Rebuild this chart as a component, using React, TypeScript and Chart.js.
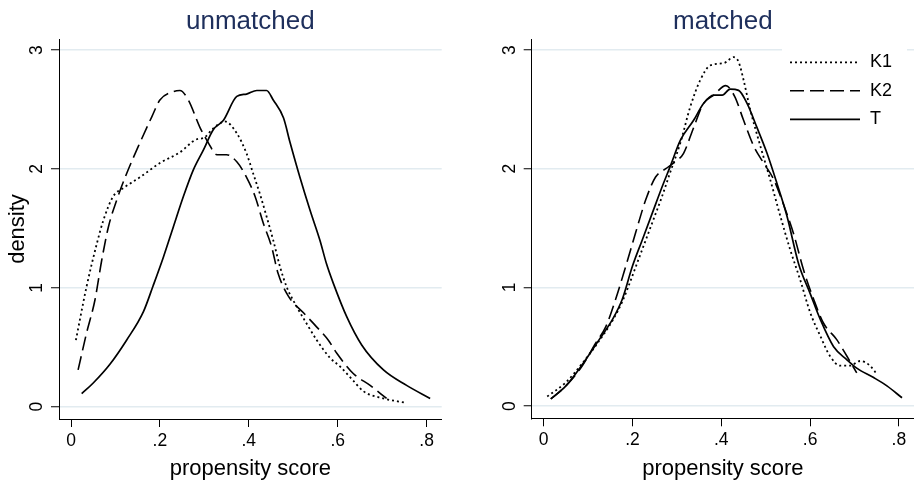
import React, { useEffect, useRef } from "react";
import { Chart, registerables } from "chart.js";

Chart.register(...registerables);

// ---------- data ----------
const seriesLabels = ["K1", "K2", "T"];
const panelTitles = ["unmatched", "matched"];
const xTickValues = [0, 0.2, 0.4, 0.6, 0.8];
const xTickLabels = ["0", ".2", ".4", ".6", ".8"];
const yTickValues = [0, 1, 2, 3];
const yTickLabels = ["0", "1", "2", "3"];

// unmatched panel
const unmatchedK1X = [0.011, 0.035, 0.058, 0.073, 0.095, 0.118, 0.155, 0.2, 0.245, 0.283, 0.298, 0.32, 0.346, 0.373, 0.395, 0.41, 0.425, 0.44, 0.455, 0.47, 0.485, 0.508, 0.53, 0.553, 0.583, 0.605, 0.635, 0.658, 0.703, 0.751];
const unmatchedK1Y = [0.56, 1.01, 1.37, 1.57, 1.77, 1.84, 1.93, 2.05, 2.14, 2.25, 2.26, 2.34, 2.4, 2.3, 2.13, 1.96, 1.79, 1.6, 1.4, 1.18, 1.01, 0.84, 0.7, 0.56, 0.41, 0.34, 0.22, 0.13, 0.07, 0.035];

const unmatchedK2X = [0.016, 0.035, 0.054, 0.069, 0.084, 0.103, 0.125, 0.155, 0.182, 0.2, 0.23, 0.245, 0.264, 0.29, 0.309, 0.328, 0.35, 0.373, 0.395, 0.414, 0.433, 0.451, 0.466, 0.489, 0.523, 0.553, 0.579, 0.598, 0.635, 0.673, 0.71];
const unmatchedK2Y = [0.31, 0.62, 0.9, 1.23, 1.51, 1.74, 1.96, 2.22, 2.44, 2.58, 2.65, 2.66, 2.58, 2.35, 2.22, 2.12, 2.12, 2.06, 1.93, 1.77, 1.54, 1.35, 1.12, 0.93, 0.79, 0.67, 0.56, 0.45, 0.28, 0.18, 0.07];

const unmatchedTX = [0.024, 0.05, 0.088, 0.125, 0.163, 0.185, 0.208, 0.23, 0.253, 0.275, 0.298, 0.32, 0.343, 0.373, 0.395, 0.418, 0.44, 0.455, 0.478, 0.493, 0.515, 0.538, 0.56, 0.575, 0.59, 0.62, 0.654, 0.703, 0.755, 0.808];
const unmatchedTY = [0.11, 0.2, 0.36, 0.56, 0.8, 1.02, 1.26, 1.51, 1.77, 1.99, 2.16, 2.33, 2.41, 2.61, 2.63, 2.66, 2.66, 2.58, 2.43, 2.22, 1.93, 1.65, 1.4, 1.2, 1.04, 0.76, 0.52, 0.31, 0.18, 0.07];

// matched panel
const matchedK1X = [0.008, 0.05, 0.087, 0.125, 0.155, 0.177, 0.19, 0.21, 0.23, 0.25, 0.265, 0.285, 0.308, 0.33, 0.353, 0.375, 0.406, 0.428, 0.439, 0.45, 0.465, 0.488, 0.51, 0.533, 0.555, 0.578, 0.6, 0.623, 0.645, 0.668, 0.69, 0.713, 0.735, 0.75];
const matchedK1Y = [0.08, 0.2, 0.36, 0.55, 0.72, 0.88, 1.0, 1.2, 1.4, 1.6, 1.75, 1.97, 2.22, 2.52, 2.75, 2.87, 2.89, 2.94, 2.9, 2.75, 2.5, 2.19, 1.91, 1.6, 1.32, 1.06, 0.79, 0.59, 0.42, 0.34, 0.34, 0.38, 0.34, 0.27];

const matchedK2X = [0.016, 0.05, 0.087, 0.117, 0.14, 0.162, 0.185, 0.207, 0.23, 0.252, 0.275, 0.293, 0.315, 0.338, 0.36, 0.383, 0.41, 0.43, 0.45, 0.473, 0.495, 0.518, 0.54, 0.563, 0.585, 0.608, 0.63, 0.66, 0.683, 0.705];
const matchedK2Y = [0.06, 0.17, 0.34, 0.53, 0.67, 0.9, 1.18, 1.46, 1.74, 1.93, 2.0, 2.05, 2.13, 2.35, 2.55, 2.62, 2.7, 2.61, 2.41, 2.19, 2.05, 1.91, 1.7, 1.45, 1.15, 0.9, 0.7, 0.56, 0.42, 0.28];

const matchedTX = [0.016, 0.05, 0.087, 0.125, 0.155, 0.177, 0.2, 0.222, 0.245, 0.267, 0.285, 0.308, 0.338, 0.36, 0.383, 0.402, 0.42, 0.439, 0.458, 0.48, 0.503, 0.525, 0.548, 0.574, 0.6, 0.623, 0.653, 0.683, 0.705, 0.743, 0.773, 0.807];
const matchedTY = [0.06, 0.17, 0.35, 0.56, 0.73, 0.9, 1.18, 1.4, 1.63, 1.85, 2.02, 2.24, 2.41, 2.55, 2.62, 2.62, 2.67, 2.66, 2.55, 2.35, 2.13, 1.88, 1.6, 1.2, 0.95, 0.73, 0.5, 0.39, 0.32, 0.24, 0.17, 0.07];

// ---------- styling ----------
const FONT = "'Liberation Sans', Arial, Helvetica, sans-serif";
const lineStyles = [
  { borderDash: [2, 3], borderWidth: 1.8 },
  { borderDash: [14, 6], borderWidth: 1.6 },
  { borderDash: [] as number[], borderWidth: 1.7 },
];

const toPoints = (xs: number[], ys: number[]) => xs.map((x, i) => ({ x, y: ys[i] }));

const insetLegend = {
  id: "insetLegend",
  afterDraw(chart: any, _args: any, opts: any) {
    if (!opts || !opts.show) return;
    const ctx = chart.ctx as CanvasRenderingContext2D;
    const area = chart.chartArea;
    const left = area.right - 132;
    const top = area.top + 5;
    ctx.save();
    ctx.fillStyle = "#ffffff";
    ctx.fillRect(left, top, 125, 92);
    chart.data.datasets.forEach((ds: any, i: number) => {
      const y = top + 18.3 + i * 28.5;
      ctx.beginPath();
      ctx.setLineDash(ds.borderDash || []);
      ctx.lineWidth = ds.borderWidth;
      ctx.strokeStyle = ds.borderColor;
      ctx.moveTo(left + 8, y);
      ctx.lineTo(left + 78, y);
      ctx.stroke();
      ctx.setLineDash([]);
      ctx.fillStyle = "#000";
      ctx.font = `18px ${FONT}`;
      ctx.textBaseline = "middle";
      ctx.textAlign = "left";
      ctx.fillText(ds.label, left + 88, y);
    });
    ctx.restore();
  },
};

type PanelProps = {
  title: string;
  xs: number[][];
  ys: number[][];
  yAxisWidth: number;
  xAxisHeight: number;
  padRight: number;
  showYTitle: boolean;
  showLegend: boolean;
};

function Panel(props: PanelProps) {
  const ref = useRef<HTMLCanvasElement | null>(null);
  useEffect(() => {
    if (!ref.current) return;
    const datasets = seriesLabels.map((label, i) => ({
      label,
      data: toPoints(props.xs[i], props.ys[i]),
      borderColor: "#000000",
      backgroundColor: "#000000",
      borderWidth: lineStyles[i].borderWidth,
      borderDash: lineStyles[i].borderDash,
      pointRadius: 0,
      fill: false,
      cubicInterpolationMode: "monotone" as const,
    }));
    const chart = new Chart(ref.current, {
      type: "line",
      data: { datasets },
      plugins: props.showLegend ? [insetLegend] : [],
      options: {
        animation: false,
        responsive: false,
        devicePixelRatio: 1,
        layout: { padding: { left: 0, right: props.padRight, top: 0, bottom: 0 } },
        plugins: {
          legend: { display: false },
          tooltip: { enabled: false },
          title: {
            display: true,
            text: props.title,
            color: "#1e2f5c",
            fullSize: false,
            font: { family: FONT, size: 26, weight: "normal" },
            padding: { top: 5.8, bottom: 2 },
          },
          // @ts-ignore
          insetLegend: { show: props.showLegend },
        },
        scales: {
          x: {
            type: "linear",
            min: -0.027,
            max: 0.834,
            afterBuildTicks: (s: any) => {
              s.ticks = xTickValues.map((v) => ({ value: v }));
            },
            afterFit: (s: any) => {
              s.height = props.xAxisHeight;
            },
            ticks: {
              autoSkip: false,
              maxRotation: 0,
              minRotation: 0,
              padding: 3.2,
              color: "#000",
              font: { family: FONT, size: 17.5 },
              callback: (_v: any, i: number) => xTickLabels[i],
            },
            grid: {
              drawOnChartArea: false,
              drawTicks: true,
              tickLength: 8,
              tickColor: "#000",
              tickWidth: 1,
            },
            border: { display: true, color: "#000", width: 1 },
            title: {
              display: true,
              text: "propensity score",
              color: "#000",
              font: { family: FONT, size: 22 },
              padding: { top: 0, bottom: 1.3 },
            },
          },
          y: {
            type: "linear",
            min: -0.103,
            max: 3.093,
            afterBuildTicks: (s: any) => {
              s.ticks = yTickValues.map((v) => ({ value: v }));
            },
            afterFit: (s: any) => {
              s.width = props.yAxisWidth;
            },
            ticks: {
              autoSkip: false,
              minRotation: 90,
              maxRotation: 90,
              crossAlign: "center",
              padding: 9,
              color: "#000",
              font: { family: FONT, size: 17.5 },
              callback: (_v: any, i: number) => yTickLabels[i],
            },
            grid: {
              color: "#e2ebf0",
              lineWidth: 1.5,
              drawTicks: true,
              tickLength: 8,
              tickColor: "#000",
              tickWidth: 1,
            },
            border: { display: true, color: "#000", width: 1 },
            title: {
              display: props.showYTitle,
              text: "density",
              color: "#000",
              font: { family: FONT, size: 22 },
              padding: { top: 4.5, bottom: 0 },
            },
          },
        },
      },
    });
    return () => chart.destroy();
  }, []);
  return <canvas ref={ref} width={457} height={483} style={{ display: "block", width: 457, height: 483 }} />;
}

export default function App() {
  return (
    <div style={{ position: "absolute", left: 0, top: 0, width: 914, height: 483, display: "flex", background: "#fff" }}>
      <Panel
        title={panelTitles[0]}
        xs={[unmatchedK1X, unmatchedK2X, unmatchedTX]}
        ys={[unmatchedK1Y, unmatchedK2Y, unmatchedTY]}
        yAxisWidth={59}
        xAxisHeight={64}
        padRight={15.3}
        showYTitle={true}
        showLegend={false}
      />
      <Panel
        title={panelTitles[1]}
        xs={[matchedK1X, matchedK2X, matchedTX]}
        ys={[matchedK1Y, matchedK2Y, matchedTY]}
        yAxisWidth={74.7}
        xAxisHeight={64.7}
        padRight={0}
        showYTitle={false}
        showLegend={true}
      />
    </div>
  );
}
